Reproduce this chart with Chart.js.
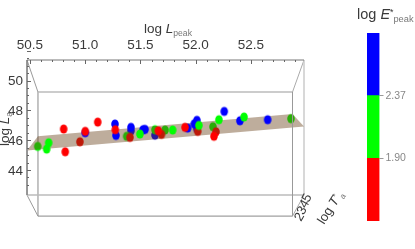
<!DOCTYPE html>
<html>
<head>
<meta charset="utf-8">
<script src="https://cdn.jsdelivr.net/npm/chart.js@4"></script>
<style>
body { margin: 0; background: #fff; overflow: hidden; }
canvas { position: absolute; top: 0; }
</style>
</head>
<body>
<canvas id="main" width="350" height="249" style="left:0"></canvas>
<canvas id="bar" width="65" height="249" style="left:350px"></canvas>
<script>
const FONT = '"Liberation Sans Narrow", "Liberation Sans", sans-serif';

const xTicks = [50.5, 51.0, 51.5, 52.0, 52.5];
const yTicks = [44, 46, 48, 50];

// projected positions: [log Lpeak, log La]
// points in front of the plane
const redX = [50.805, 50.819, 51.0, 51.113, 51.272, 51.661, 51.903, 52.165];
const redY = [46.745, 45.22, 46.59, 47.21, 46.70, 46.63, 46.86, 46.26];
const greenX = [50.651, 50.669, 51.495, 51.791, 52.029, 52.21, 52.437];
const greenY = [45.40, 45.83, 46.41, 46.68, 46.99, 47.37, 47.55];
const blueX = [51.0, 51.269, 51.278, 51.414, 51.523, 51.541, 51.927, 51.987, 52.011, 52.258, 52.40, 52.651];
const blueY = [46.50, 47.08, 46.32, 46.86, 46.70, 46.72, 46.81, 47.10, 47.33, 47.93, 47.30, 47.37];
// points behind the plane
const redBehindX = [50.952, 51.405, 51.69, 52.018, 52.183];
const redBehindY = [45.89, 46.19, 46.39, 46.59, 46.56];
const greenBehindX = [50.57, 51.375, 51.631, 51.722, 52.156, 52.862];
const greenBehindY = [45.58, 46.26, 46.70, 46.68, 46.90, 47.44];
const blueBehindX = [51.414, 51.631, 52.009];
const blueBehindY = [46.63, 46.34, 46.79];

const planeX = [50.473, 50.572, 52.876, 52.98, 50.473];
const planeY = [45.31, 46.27, 47.75, 46.92, 45.31];

const binEdges = [1.43, 1.90, 2.37, 2.84];
const barTicks = [1.90, 2.37];

function pts(xs, ys) {
  return xs.map((x, i) => ({ x: x, y: ys[i] }));
}

// the markers are slightly taller than wide in the original
function dot(color) {
  const c = document.createElement('canvas');
  c.width = 10; c.height = 12;
  const g = c.getContext('2d');
  g.fillStyle = color;
  g.beginPath();
  g.ellipse(5, 6, 3.8, 4.5, 0, 0, Math.PI * 2);
  g.fill();
  return c;
}

function scatter(xs, ys, color, order) {
  return {
    data: pts(xs, ys), pointStyle: dot(color),
    pointRadius: 5, showLine: false, order: order
  };
}

function edge(xs, ys, color, width, order) {
  return {
    data: pts(xs, ys), borderColor: color, borderWidth: width,
    pointRadius: 0, showLine: true, fill: false, order: order, clip: false
  };
}

// box edges, in axis units
const xA = 50.473, xB = 52.98, xC = 50.572, xD = 52.876;
const yA = 51.376, yB = 42.32, yC = 49.228, yD = 40.906;

const datasets = [
  edge([xA, xB], [yA, yA], '#777', 1, 1),
  edge([xA, xA], [yA, yB], '#888', 1, 1),
  edge([xB, xB], [yA, yB], '#ccc', 1.5, 9),
  edge([xA, xB], [yB, yB], '#bbb', 1.5, 9),
  edge([xA, xC], [yA, yC], '#999', 1, 9),
  edge([xB, xD], [yA, yC], '#aaa', 1, 9),
  edge([xA, xC], [yB, yD], '#999', 1, 9),
  edge([xB, xD], [yB, yD], '#aaa', 1, 9),
  edge([xC, xD], [yC, yC], '#bbb', 1.5, 9),
  edge([xC, xD], [yD, yD], '#888', 1, 9),
  edge([xC, xC], [yC, yD], '#bbb', 1, 9),
  edge([xD, xD], [yC, yD], '#999', 1, 3),
  {
    data: pts(planeX, planeY), showLine: true, fill: 'shape',
    backgroundColor: 'rgba(100,60,20,0.42)', borderWidth: 0, pointRadius: 0, order: 5
  },
  scatter(redX, redY, '#ff0000', 2),
  scatter(greenX, greenY, '#00ff00', 2.5),
  scatter(blueX, blueY, '#0000ff', 4),
  scatter(redBehindX, redBehindY, '#ff0000', 6),
  scatter(greenBehindX, greenBehindY, '#00ff00', 7),
  scatter(blueBehindX, blueBehindY, '#0000ff', 8)
];

// text pieces: [text, style] with style n, i, sub, sup
function runs(ctx, x, y, parts, size, color) {
  ctx.fillStyle = color;
  ctx.textBaseline = 'alphabetic';
  ctx.textAlign = 'left';
  for (const [t, s] of parts) {
    let dy = 0, f = size + 'px ' + FONT;
    if (s === 'i') f = 'italic ' + f;
    if (s === 'sub') { f = (size * 0.64) + 'px ' + FONT; dy = 3; ctx.fillStyle = '#777'; }
    if (s === 'sup') { f = (size * 0.6) + 'px ' + FONT; dy = -4; }
    ctx.font = f;
    ctx.fillText(t, x, y + dy);
    x += ctx.measureText(t).width;
    ctx.fillStyle = color;
  }
}

const decor = {
  id: 'decor',
  afterDraw(chart) {
    const ctx = chart.ctx, sx = chart.scales.x, sy = chart.scales.y;
    ctx.save();
    ctx.strokeStyle = '#666';
    ctx.lineWidth = 1;
    // ticks sit on the inside of the front edges
    for (let i = 0; i <= 24; i++) {
      const v = 50.5 + i * 0.1, px = Math.round(sx.getPixelForValue(v)) + 0.5;
      const len = i % 5 === 0 ? 4 : 2;
      ctx.beginPath(); ctx.moveTo(px, 60); ctx.lineTo(px, 60 + len); ctx.stroke();
    }
    for (let i = 0; i <= 18; i++) {
      const v = 43 + i * 0.5, py = Math.round(sy.getPixelForValue(v)) + 0.5;
      const len = i % 4 === 2 ? 4 : 2;
      ctx.beginPath(); ctx.moveTo(27, py); ctx.lineTo(27 + len, py); ctx.stroke();
    }
    runs(ctx, 144, 33, [['log ', 'n'], ['L', 'i'], ['peak', 'sub']], 13.5, '#3a3a3a');

    ctx.save();
    ctx.translate(8.5, 146);
    ctx.rotate(-Math.PI / 2);
    runs(ctx, 0, 0, [['log ', 'n'], ['L', 'i'], ['a', 'sub']], 13.5, '#3a3a3a');
    ctx.restore();

    const depth = [['2', 301, 222], ['3', 303.5, 215.5], ['4', 306, 209], ['5', 308.5, 203]];
    for (const [t, x, y] of depth) {
      ctx.save();
      ctx.translate(x, y);
      ctx.rotate(-1.05);
      runs(ctx, 0, 0, [[t, 'n']], 13, '#3a3a3a');
      ctx.restore();
    }

    ctx.save();
    ctx.translate(324, 225);
    ctx.rotate(-1.0);
    runs(ctx, 0, 0, [['log ', 'n'], ['T', 'i'], ['*', 'sup'], ['a', 'sub']], 13, '#3a3a3a');
    ctx.restore();
    ctx.restore();
  }
};

new Chart(document.getElementById('main'), {
  type: 'scatter',
  data: { datasets: datasets },
  plugins: [decor],
  options: {
    responsive: false,
    animation: false,
    layout: { padding: { right: 46, bottom: 32 } },
    plugins: { legend: { display: false }, tooltip: { enabled: false } },
    scales: {
      x: {
        position: 'top', min: xA, max: xB,
        grid: { display: false, drawTicks: false }, border: { display: false },
        afterBuildTicks: s => { s.ticks = xTicks.map(v => ({ value: v })); },
        afterFit: s => { s.height = 60; },
        ticks: {
          autoSkip: false, maxRotation: 0, padding: 7, color: '#3a3a3a',
          font: { family: FONT, size: 13.5 },
          callback: v => v.toFixed(1)
        }
      },
      y: {
        min: yD - 0.06, max: yA,
        grid: { display: false, drawTicks: false }, border: { display: false },
        afterBuildTicks: s => { s.ticks = yTicks.map(v => ({ value: v })); },
        afterFit: s => { s.width = 27; },
        ticks: {
          autoSkip: false, padding: 4, labelOffset: 1, color: '#3a3a3a',
          font: { family: FONT, size: 13.5 },
          callback: v => String(v)
        }
      }
    }
  }
});

const barTitle = {
  id: 'barTitle',
  afterDraw(chart) {
    runs(chart.ctx, 7, 19, [['log ', 'n'], ['E', 'i'], ['*', 'sup'], ['peak', 'sub']], 14.5, '#3a3a3a');
  }
};

new Chart(document.getElementById('bar'), {
  type: 'bar',
  data: {
    labels: [''],
    datasets: [
      { data: [[binEdges[0], binEdges[1]]], backgroundColor: '#ff0000' },
      { data: [[binEdges[1], binEdges[2]]], backgroundColor: '#00ff00' },
      { data: [[binEdges[2], binEdges[3]]], backgroundColor: '#0000ff' }
    ]
  },
  plugins: [barTitle],
  options: {
    responsive: false,
    animation: false,
    barPercentage: 1,
    categoryPercentage: 1,
    layout: { padding: { left: 17, top: 33, bottom: 28 } },
    plugins: { legend: { display: false }, tooltip: { enabled: false } },
    scales: {
      x: { display: false, stacked: true },
      y: {
        position: 'right', min: binEdges[0], max: binEdges[3],
        grid: { drawOnChartArea: false, tickLength: 4, tickColor: '#999' },
        border: { display: false },
        afterBuildTicks: s => { s.ticks = barTicks.map(v => ({ value: v })); },
        afterFit: s => { s.width = 35.5; },
        ticks: {
          padding: 2, color: '#888',
          font: { family: FONT, size: 10.5 },
          callback: v => v.toFixed(2)
        }
      }
    }
  }
});
</script>
</body>
</html>
